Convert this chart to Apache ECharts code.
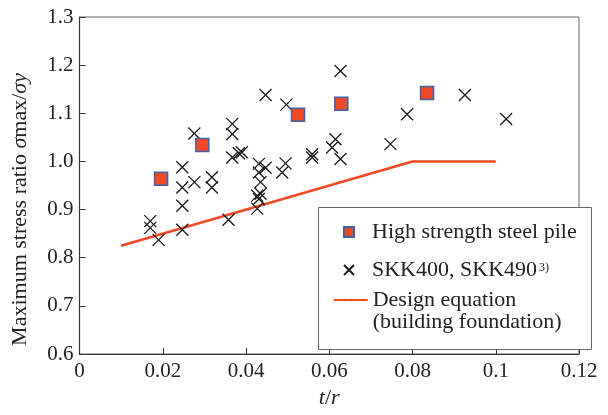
<!DOCTYPE html>
<html>
<head>
<meta charset="utf-8">
<script src="https://cdn.jsdelivr.net/npm/echarts@6/dist/echarts.min.js"></script>
<style>
  html, body { margin: 0; padding: 0; background: #fff; }
  #chart-container { width: 608px; height: 415px; }
</style>
</head>
<body>
<div id="chart-container"></div>
<script>
// high strength steel pile (squares)
var pileT = [0.0196, 0.0295, 0.0525, 0.0629, 0.0835];
var pileRatio = [0.964, 1.034, 1.097, 1.120, 1.142];

// SKK400, SKK490 test results (crosses)
var skkT = [0.017, 0.017, 0.019, 0.0247, 0.0247, 0.0247, 0.0247, 0.0276, 0.0276, 0.0318,
            0.0318, 0.0358, 0.0367, 0.0367, 0.0367, 0.0383, 0.0390, 0.0431, 0.0431, 0.0435,
            0.0427, 0.0435, 0.0431, 0.0427, 0.0447, 0.0447, 0.0495, 0.0487, 0.0497, 0.0559,
            0.0559, 0.0607, 0.0615, 0.0627, 0.0627, 0.0747, 0.0787, 0.0926, 0.1025];
var skkRatio = [0.876, 0.862, 0.837, 0.988, 0.946, 0.908, 0.858, 1.058, 0.957, 0.967,
                0.946, 0.879, 1.078, 1.057, 1.008, 1.017, 1.019, 0.995, 0.977, 0.957,
                0.929, 0.933, 0.922, 0.902, 0.987, 1.138, 0.996, 0.977, 1.118, 1.015,
                1.008, 1.029, 1.046, 1.005, 1.188, 1.036, 1.098, 1.138, 1.088];

// design equation (building foundation)
var designT = [0.01, 0.08, 0.1];
var designRatio = [0.825, 1.0, 1.0];

var xTickLabels = ['0', '0.02', '0.04', '0.06', '0.08', '0.1', '0.12'];
var yTickLabels = ['0.6', '0.7', '0.8', '0.9', '1.0', '1.1', '1.2', '1.3'];

var serif = 'Liberation Serif';
var names = ['High strength steel pile', 'SKK400, SKK490', 'Design equation'];

function pairs(xs, ys) {
  return xs.map(function (x, i) { return [x, ys[i]]; });
}

var chart = echarts.init(document.getElementById('chart-container'));

var crossPath = 'path://M0,0L10,10M10,0L0,10';

var options = {
  animation: false,
  textStyle: { fontFamily: serif, color: '#222' },
  grid: {
    left: 79.5, right: 29, top: 17, bottom: 61,
    show: true, borderColor: '#666', borderWidth: 1
  },
  xAxis: {
    type: 'value', min: 0, max: 0.12, interval: 0.02,
    splitLine: { show: false },
    axisLine: { lineStyle: { color: '#333', width: 1.2 } },
    axisTick: { inside: true, length: 6, lineStyle: { color: '#333' } },
    axisLabel: {
      fontFamily: serif, fontSize: 21, color: '#222', margin: 7,
      formatter: function (v) { return xTickLabels[Math.round(v / 0.02)]; }
    },
    name: '{i|t}/{i|r}',
    nameLocation: 'middle',
    nameGap: 29,
    nameTextStyle: {
      fontFamily: serif, fontSize: 22, color: '#222',
      rich: { i: { fontFamily: serif, fontSize: 22, fontStyle: 'italic', color: '#222' } }
    }
  },
  yAxis: {
    type: 'value', min: 0.6, max: 1.3, interval: 0.1,
    splitLine: { show: false },
    axisLine: { lineStyle: { color: '#333', width: 1.2 } },
    axisTick: { inside: true, length: 6, lineStyle: { color: '#333' } },
    axisLabel: {
      fontFamily: serif, fontSize: 21, color: '#222', margin: 6,
      formatter: function (v) { return yTickLabels[Math.round((v - 0.6) / 0.1)]; }
    },
    name: 'Maximum stress ratio {i|σ}max/{i|σy}',
    nameLocation: 'middle',
    nameGap: 48,
    nameTextStyle: {
      fontFamily: serif, fontSize: 22, color: '#222', padding: [0, 48, 0, 0],
      rich: { i: { fontFamily: serif, fontSize: 22, fontStyle: 'italic', color: '#222' } }
    }
  },
  graphic: [{
    type: 'rect', z: 10,
    shape: { x: 318.5, y: 207.5, width: 273, height: 142 },
    style: { fill: '#fff', stroke: '#666', lineWidth: 1 }
  }],
  legend: [{
    data: [names[0]], left: 343, top: 220, padding: 0, z: 20,
    itemWidth: 10, itemHeight: 10,
    textStyle: { fontFamily: serif, fontSize: 22, color: '#222', lineHeight: 24, padding: [0, 0, 0, 13] }
  }, {
    data: [names[1]], left: 343, top: 258, padding: 0, z: 20,
    itemWidth: 10, itemHeight: 10,
    formatter: function (n) { return '{n|' + n + '}{s|3)}'; },
    textStyle: {
      fontFamily: serif, fontSize: 22, color: '#222', lineHeight: 24, padding: [0, 0, 0, 13],
      rich: {
        n: { fontFamily: serif, fontSize: 22, color: '#222', lineHeight: 24 },
        s: { fontFamily: serif, fontSize: 12, color: '#222', lineHeight: 12, verticalAlign: 'top', padding: [4, 0, 0, 2] }
      }
    }
  }, {
    data: [names[2]], left: 332.7, top: 267, padding: 0, z: 20,
    itemWidth: 34, itemHeight: 3,
    formatter: function (n) { return ' \n' + n + '\n(building foundation)'; },
    textStyle: { fontFamily: serif, fontSize: 22, color: '#222', lineHeight: 22 }
  }],
  series: [{
    name: names[2],
    type: 'line',
    data: pairs(designT, designRatio),
    symbol: 'none',
    lineStyle: { color: '#ef4a25', width: 2.5 },
    itemStyle: { color: '#ef4a25' },
    z: 2
  }, {
    name: names[1],
    type: 'scatter',
    data: pairs(skkT, skkRatio),
    symbol: crossPath,
    symbolSize: 12,
    itemStyle: { color: 'rgba(0,0,0,0)', borderColor: '#1a1a1a', borderWidth: 1.3, opacity: 1 },
    z: 3
  }, {
    name: names[0],
    type: 'scatter',
    data: pairs(pileT, pileRatio),
    symbol: 'rect',
    symbolSize: 13,
    itemStyle: { color: '#ef4a25', borderColor: '#3d62ad', borderWidth: 1.5, opacity: 1 },
    z: 4
  }]
};

chart.setOption(options);
</script>
</body>
</html>
